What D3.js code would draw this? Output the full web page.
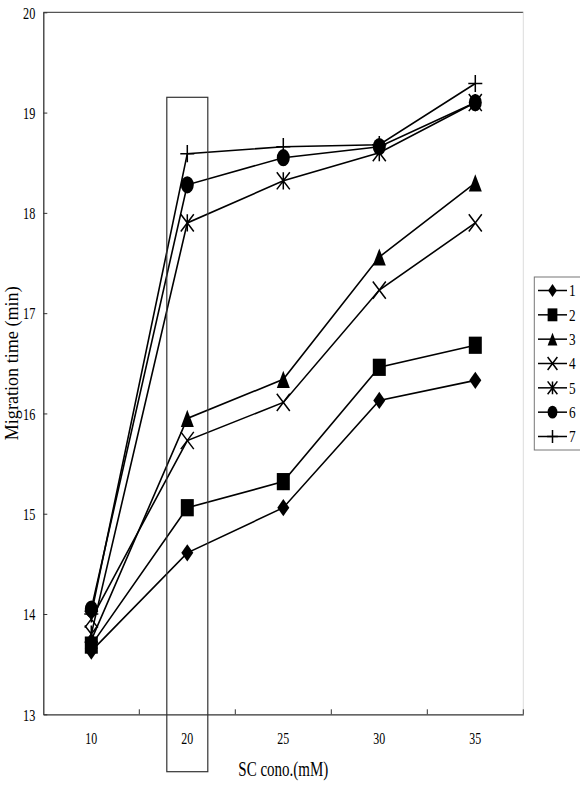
<!DOCTYPE html>
<html lang="en">

<head>
    <meta charset="UTF-8">
    <title>Migration time vs SC conc.</title>
    <script src="https://d3js.org/d3.v7.min.js"></script>
    <style>
        body,
        html {
            margin: 0px;
            background: #fff;
        }

        text {
            font-family: "Liberation Serif", "DejaVu Serif", serif;
            fill: #000;
        }
    </style>
</head>

<body>
    <div id="chart"></div>

    <script>
        // data
        var categories = ["10", "20", "25", "30", "35"];
        var seriesNames = ["1", "2", "3", "4", "5", "6", "7"];
        var s1 = [13.63, 14.61, 15.06, 16.13, 16.33];
        var s2 = [13.69, 15.06, 15.32, 16.46, 16.68];
        var s3 = [13.74, 15.95, 16.34, 17.56, 18.30];
        var s4 = [13.95, 15.73, 16.11, 17.23, 17.90];
        var s5 = [13.80, 17.90, 18.32, 18.60, 19.10];
        var s6 = [14.05, 18.28, 18.55, 18.66, 19.10];
        var s7 = [14.00, 18.59, 18.66, 18.68, 19.29];
        var yTicks = [13, 14, 15, 16, 17, 18, 19, 20];

        var allSeries = [s1, s2, s3, s4, s5, s6, s7];
        var markerTypes = ["diamond", "square", "triangle", "x", "star", "circle", "plus"];

        var width = 580, height = 789;
        var plotL = 43.3, plotR = 523.3, plotT = 12.3, plotB = 714.3;

        var svg = d3.select("#chart")
            .append("svg")
            .attr("width", width)
            .attr("height", height);

        var x = d3.scaleBand()
            .domain(categories)
            .range([plotL, plotR])
            .padding(0);
        var xc = d => x(d) + x.bandwidth() / 2;

        var y = d3.scaleLinear()
            .domain([13, 20])
            .range([plotB, plotT]);

        // text looks squeezed sideways in the original
        function squeeze(sel, k) {
            sel.each(function () {
                var w = this.getComputedTextLength();
                d3.select(this).attr("textLength", w * k).attr("lengthAdjust", "spacingAndGlyphs");
            });
        }

        // plot frame: top line + faint right edge
        svg.append("line")
            .attr("x1", plotL).attr("x2", plotR)
            .attr("y1", plotT).attr("y2", plotT)
            .style("stroke", "#555").style("stroke-width", 1.3);
        svg.append("line")
            .attr("x1", plotR).attr("x2", plotR)
            .attr("y1", plotT).attr("y2", plotB)
            .style("stroke", "#ddd").style("stroke-width", 1);

        // y axis
        var yAxis = svg.append("g")
            .attr("transform", `translate(${plotL},0)`)
            .call(d3.axisLeft(y).tickValues(yTicks).tickFormat(d3.format("d"))
                .tickSizeInner(-4).tickSizeOuter(0).tickPadding(8));
        yAxis.select(".domain").style("stroke", "#333").style("stroke-width", 1.3);
        yAxis.selectAll(".tick line").style("stroke", "#333");
        yAxis.selectAll(".tick text")
            .style("font-family", "Liberation Serif")
            .style("font-size", "17px")
            .attr("dy", "0.34em")
            .call(squeeze, 0.72);

        // x axis (labels in band centres, ticks on band edges)
        var xAxis = svg.append("g")
            .attr("transform", `translate(0,${plotB})`)
            .call(d3.axisBottom(x).tickSize(0).tickPadding(18));
        xAxis.select(".domain").style("stroke", "#333").style("stroke-width", 1.3);
        xAxis.selectAll(".tick text")
            .style("font-family", "Liberation Serif")
            .style("font-size", "17px")
            .call(squeeze, 0.7);

        svg.append("g")
            .selectAll("line")
            .data(categories)
            .enter().append("line")
            .attr("x1", d => x(d) + x.bandwidth())
            .attr("x2", d => x(d) + x.bandwidth())
            .attr("y1", plotB)
            .attr("y2", plotB - 5)
            .style("stroke", "#333");

        // axis titles
        svg.append("text")
            .attr("x", xc("25"))
            .attr("y", 776)
            .style("text-anchor", "middle")
            .style("font-size", "21px")
            .text("SC cono.(mM)")
            .attr("textLength", 90)
            .attr("lengthAdjust", "spacingAndGlyphs");

        svg.append("text")
            .attr("transform", `translate(17.5,${(plotT + plotB) / 2}) rotate(-90)`)
            .style("text-anchor", "middle")
            .style("font-size", "18px")
            .text("Migration time (min)")
            .attr("textLength", 154)
            .attr("lengthAdjust", "spacingAndGlyphs");

        // markers (original is stretched vertically)
        function drawMarker(g, type, cx, cy, s) {
            var w = 6.5 * s, h = 8.6 * s;
            var m = g.append("g").attr("transform", `translate(${cx},${cy})`);
            if (type === "diamond") {
                m.append("path").attr("d", `M0,${-h}L${w - 0.5},0L0,${h}L${-w + 0.5},0Z`).style("fill", "#000");
            } else if (type === "square") {
                m.append("rect").attr("x", -w).attr("y", -h).attr("width", 2 * w).attr("height", 2 * h).style("fill", "#000");
            } else if (type === "triangle") {
                m.append("path").attr("d", `M0,${-h}L${w},${h}L${-w},${h}Z`).style("fill", "#000");
            } else if (type === "circle") {
                m.append("ellipse").attr("rx", w).attr("ry", h).style("fill", "#000");
            } else {
                var p = "";
                if (type === "x" || type === "star") p += `M${-w},${-h}L${w},${h}M${-w},${h}L${w},${-h}`;
                if (type === "star" || type === "plus") p += `M0,${-h}L0,${h}`;
                if (type === "plus") p += `M${-w - 0.5},0L${w + 0.5},0`;
                m.append("path").attr("d", p).style("stroke", "#000").style("stroke-width", 1.5).style("fill", "none");
            }
        }

        var line = d3.line()
            .x((d, i) => xc(categories[i]))
            .y(d => y(d));

        allSeries.forEach(function (vals, si) {
            var g = svg.append("g").attr("class", "series");
            g.append("path")
                .datum(vals)
                .attr("d", line)
                .style("fill", "none")
                .style("stroke", "#000")
                .style("stroke-width", 1.6);
            vals.forEach(function (v, i) {
                drawMarker(g, markerTypes[si], xc(categories[i]), y(v), 1);
            });
        });

        // box around the 20 mM column
        svg.append("rect")
            .attr("x", xc("20") - 20.5)
            .attr("y", 97.3)
            .attr("width", 41)
            .attr("height", 771.7 - 97.3)
            .style("fill", "none")
            .style("stroke", "#333")
            .style("stroke-width", 1.2);

        // legend
        var legend = svg.append("g").attr("class", "legend");
        legend.append("rect")
            .attr("x", 534.3).attr("y", 277)
            .attr("width", 60).attr("height", 173)
            .style("fill", "#fff")
            .style("stroke", "#777")
            .style("stroke-width", 1);

        var ly = d3.scalePoint().domain(seriesNames).range([290.5, 436.5]);
        seriesNames.forEach(function (name, i) {
            var row = legend.append("g");
            row.append("line")
                .attr("x1", 538).attr("x2", 567)
                .attr("y1", ly(name)).attr("y2", ly(name))
                .style("stroke", "#000").style("stroke-width", 1.5);
            drawMarker(row, markerTypes[i], 552.5, ly(name), 0.75);
            row.append("text")
                .attr("x", 569)
                .attr("y", ly(name))
                .attr("dy", "0.34em")
                .style("font-size", "17px")
                .text(name)
                .call(squeeze, 0.78);
        });
    </script>
</body>

</html>
